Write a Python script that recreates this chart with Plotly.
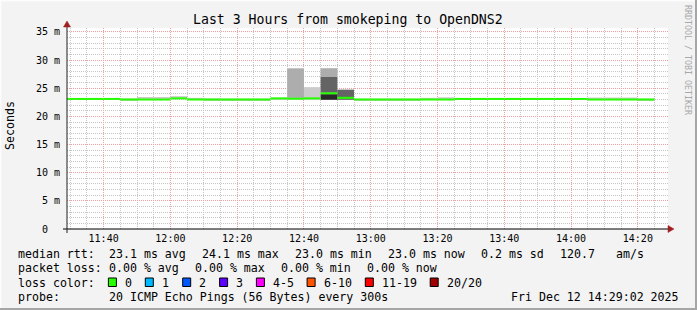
import plotly.graph_objects as go

# ---------------- data ----------------
interval_end = ["11:30", "11:35", "11:40", "11:45", "11:50", "11:55", "12:00", "12:05", "12:10",
                "12:15", "12:20", "12:25", "12:30", "12:35", "12:40", "12:45", "12:50", "12:55",
                "13:00", "13:05", "13:10", "13:15", "13:20", "13:25", "13:30", "13:35", "13:40",
                "13:45", "13:50", "13:55", "14:00", "14:05", "14:10", "14:15", "14:20", "14:25"]

median_rtt = [23.1, 23.1, 23.1, 23.1, 23.0, 23.0, 23.0, 23.2, 23.0,
              23.0, 23.0, 23.0, 23.0, 23.2, 23.15, 23.2, 24.1, 23.3,
              23.0, 23.0, 23.0, 23.0, 23.0, 23.0, 23.1, 23.1, 23.1,
              23.1, 23.1, 23.1, 23.1, 23.1, 23.0, 23.0, 23.0, 23.0]

# smoke: outer band (lightest)
smoke_min = [23.0, 23.0, 23.0, 23.0, 22.9, 22.9, 22.9, 23.05, 22.9,
             22.9, 22.9, 22.9, 22.9, 23.0, 22.95, 22.95, 22.95, 22.95,
             22.9, 22.9, 22.9, 22.9, 22.9, 22.9, 23.0, 23.0, 23.0,
             23.0, 23.0, 23.0, 23.0, 23.0, 22.9, 22.9, 22.9, 22.9]
smoke_max = [23.2, 23.2, 23.25, 23.2, 23.2, 23.45, 23.45, 23.6, 23.3,
             23.2, 23.15, 23.15, 23.15, 23.3, 28.6, 25.2, 28.6, 24.85,
             23.15, 23.15, 23.15, 23.15, 23.3, 23.4, 23.25, 23.25, 23.25,
             23.25, 23.25, 23.25, 23.25, 23.25, 23.35, 23.35, 23.35, 23.15]
# inner bands (progressively darker)
N = None
smoke2_lo = [N]*14 + [23.3, N, 27.0, N] + [N]*18
smoke2_hi = [N]*14 + [28.45, N, 28.5, N] + [N]*18
smoke3_lo = [N]*14 + [N, N, 24.2, 22.95] + [N]*18
smoke3_hi = [N]*14 + [N, N, 27.0, 24.7] + [N]*18
smoke4_lo = [N]*14 + [N, N, 22.95, N] + [N]*18
smoke4_hi = [N]*14 + [N, N, 23.95, N] + [N]*18

ytick_values = [0, 5, 10, 15, 20, 25, 30, 35]
ytick_labels = ["0\u00a0\u00a0", "5 m", "10 m", "15 m", "20 m", "25 m", "30 m", "35 m"]

loss_labels = ["0", "1", "2", "3", "4-5", "6-10", "11-19", "20/20"]
loss_colors = ["#26ff00", "#00b8ff", "#0059ff", "#5e00ff", "#ff00ff", "#ff5500", "#ff0000", "#a00000"]

DAY = "2025-12-12 "
xs_all = [DAY + t + ":00" for t in interval_end]

# ---------------- geometry helpers ----------------
L, R, T, B = 67, 668, 28, 229
FW, FH = 697, 310
def px(v):
    return (v - L) / (R - L)
def py(v):
    return (B - v) / (B - T)

MONO = "DejaVu Sans Mono"
fig = go.Figure()

def add_band(lo, hi, color):
    xs, base, h = [], [], []
    for t, a, b in zip(xs_all, lo, hi):
        if a is None or b is None:
            continue
        xs.append(t); base.append(a); h.append(b - a)
    fig.add_trace(go.Bar(x=xs, y=h, base=base, width=300000, offset=-300000,
                         marker=dict(color=color, line=dict(width=0)),
                         hoverinfo="skip", showlegend=False))

add_band(smoke_min, smoke_max, "#cbcbcb")
add_band(smoke2_lo, smoke2_hi, "#adadad")
add_band(smoke3_lo, smoke3_hi, "#646464")
add_band(smoke4_lo, smoke4_hi, "#2a2a2a")

# median line (drawn as a thin band like smokeping)
half = 0.18
fig.add_trace(go.Bar(x=xs_all, y=[2 * half] * len(median_rtt), base=[m - half for m in median_rtt],
                     width=300000, offset=-300000,
                     marker=dict(color=loss_colors[0], line=dict(width=0)),
                     hoverinfo="skip", showlegend=False))

fig.update_layout(
    width=FW, height=FH,
    margin=dict(l=L, r=FW - R, t=T, b=FH - B),
    paper_bgcolor="#f3f3f3", plot_bgcolor="#ffffff",
    barmode="overlay", showlegend=False,
    font=dict(family=MONO, size=10, color="#000000"),
)
fig.update_xaxes(
    type="date", range=[DAY + "11:29:02", DAY + "14:29:02"],
    tick0=DAY + "11:40:00", dtick=1200000, tickformat="%H:%M",
    showgrid=True, gridcolor="#f0a0a0", griddash="1px,1px", gridwidth=1,
    zeroline=False, showline=False, ticks="", ticklabelstandoff=2,
    tickfont=dict(family=MONO, size=10, color="#000"),
    minor=dict(dtick=300000, tick0=DAY + "11:30:00", showgrid=True,
               gridcolor="#c6c6c6", griddash="1px,1px", gridwidth=1),
    fixedrange=True,
)
fig.update_yaxes(
    range=[0, 35.7], tickvals=ytick_values, ticktext=ytick_labels,
    showgrid=True, gridcolor="#f0a0a0", griddash="1px,1px", gridwidth=1,
    zeroline=False, showline=False, ticks="", ticklabelstandoff=6,
    tickfont=dict(family=MONO, size=10, color="#000"),
    minor=dict(dtick=1, showgrid=True, gridcolor="#c6c6c6", griddash="1px,1px", gridwidth=1),
    fixedrange=True,
)

shapes = []
# axis lines
shapes.append(dict(type="line", xref="paper", yref="paper", x0=px(63), x1=px(669), y0=py(229), y1=py(229),
                   line=dict(color="#000000", width=1)))
shapes.append(dict(type="line", xref="paper", yref="paper", x0=px(67), x1=px(67), y0=py(233), y1=py(26),
                   line=dict(color="#202020", width=1)))
# arrows
def tri(pts, color):
    path = "M " + " L ".join(f"{px(a)},{py(b)}" for a, b in pts) + " Z"
    return dict(type="path", xref="paper", yref="paper", path=path,
                fillcolor=color, line=dict(color=color, width=0.5))
shapes.append(tri([(668, 225.5), (668, 232.5), (674, 229)], "#a01e1e"))
shapes.append(tri([(63.5, 27), (70.5, 27), (67, 21)], "#a01e1e"))
# frame
shapes.append(dict(type="line", xref="paper", yref="paper", x0=px(0), x1=px(697), y0=py(0.5), y1=py(0.5),
                   line=dict(color="#fdfdfd", width=1.5)))
shapes.append(dict(type="line", xref="paper", yref="paper", x0=px(0.5), x1=px(0.5), y0=py(0), y1=py(310),
                   line=dict(color="#fdfdfd", width=1.5)))
shapes.append(dict(type="line", xref="paper", yref="paper", x0=px(0), x1=px(697), y0=py(309), y1=py(309),
                   line=dict(color="#a6a6a6", width=2)))
shapes.append(dict(type="line", xref="paper", yref="paper", x0=px(696), x1=px(696), y0=py(0), y1=py(310),
                   line=dict(color="#a6a6a6", width=2)))

annotations = []
def txt(text, x, y, anchor="left", size=11.6, color="#000", angle=0):
    annotations.append(dict(text=text, x=px(x), y=py(y), xref="paper", yref="paper",
                            xanchor=anchor, yanchor="middle", showarrow=False, textangle=angle,
                            font=dict(family=MONO, size=size, color=color)))

txt("Last 3 Hours from smokeping to OpenDNS2", 348, 19, anchor="center", size=13.2)
txt("Seconds", 10, 126, anchor="center", angle=-90)
txt("RRDTOOL / TOBI OETIKER", 688, 60, anchor="center", size=8.3, color="#a8a8a8", angle=90)

rows = [254, 268, 282.5, 296.5]
row1 = [("median rtt:", 16), ("23.1 ms avg", 107), ("24.1 ms max", 200), ("23.0 ms min", 293),
        ("23.0 ms now", 386), ("0.2 ms sd", 479), ("120.7", 558), ("am/s", 614)]
row2 = [("packet loss:", 16), ("0.00 % avg", 107), ("0.00 % max", 193), ("0.00 % min", 279),
        ("0.00 % now", 365)]
for t, xx in row1:
    txt(t, xx, rows[0])
for t, xx in row2:
    txt(t, xx, rows[1])
txt("loss color:", 16, rows[2])
box_x = [108.4, 145.3, 182.7, 219.6, 256.4, 307.1, 365.3, 430.2]
for lab, col, bx in zip(loss_labels, loss_colors, box_x):
    shapes.append(dict(type="rect", xref="paper", yref="paper", x0=px(bx), x1=px(bx + 8),
                       y0=py(286.5), y1=py(278), fillcolor=col, line=dict(color="#000", width=1)))
    txt(lab, bx + 14.7, rows[2])
txt("probe:", 16, rows[3])
txt("20 ICMP Echo Pings (56 Bytes) every 300s", 107, rows[3])
txt("Fri Dec 12 14:29:02 2025", 681, rows[3], anchor="right")

fig.update_layout(shapes=shapes, annotations=annotations)
fig.write_html("out.html")
